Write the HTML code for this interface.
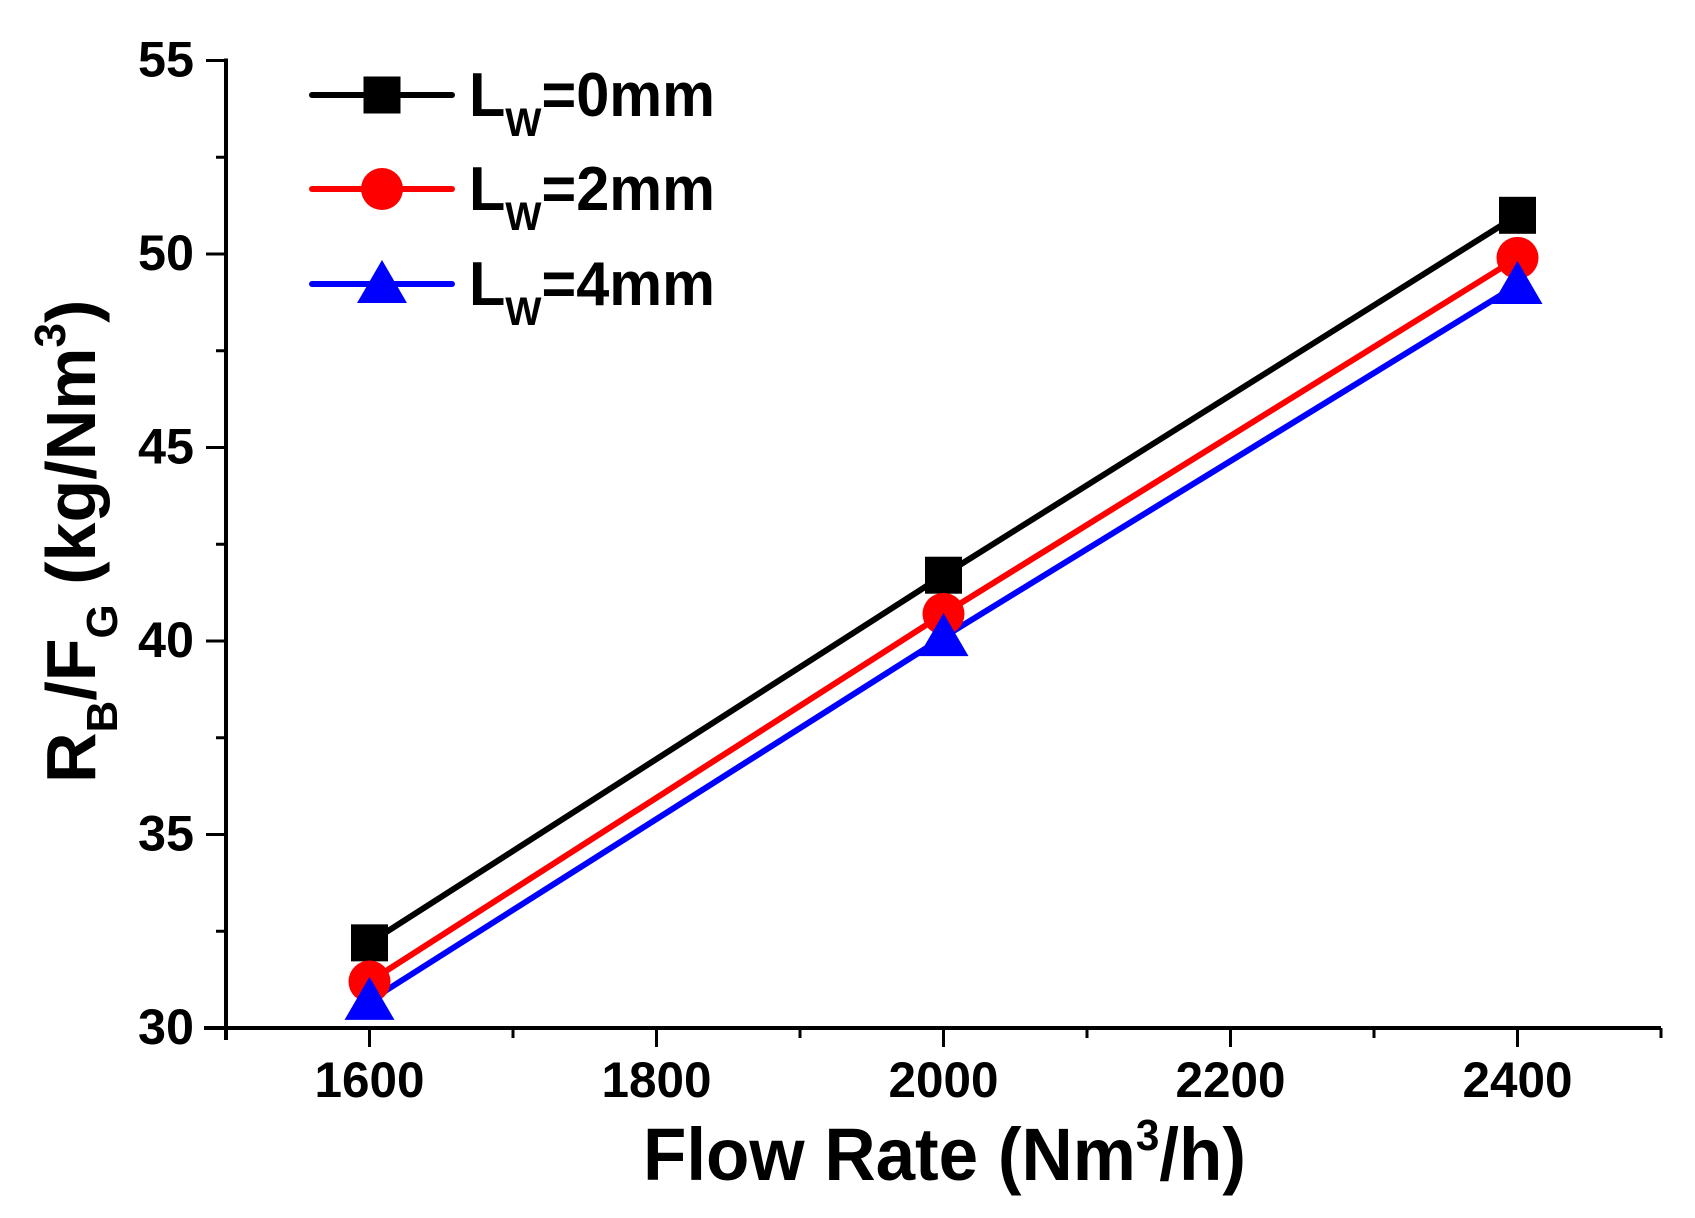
<!DOCTYPE html>
<html><head><meta charset="utf-8"><style>
html,body{margin:0;padding:0;background:#fff;}
svg{display:block;font-family:"Liberation Sans",Arial,sans-serif;font-weight:bold;}
</style></head><body>
<svg id="chart" width="1695" height="1218" viewBox="0 0 1695 1218"></svg>
<script>
const categories = [1600, 2000, 2400];
const seriesNames = ["0", "2", "4"];
const black0mm = [32.2, 41.7, 51.0];
const red2mm = [31.2, 40.7, 49.9];
const blue4mm = [30.7, 40.1, 49.2];
const xTicks = [1600, 1800, 2000, 2200, 2400];
const yTicks = [30, 35, 40, 45, 50, 55];

const NS = "http://www.w3.org/2000/svg";
const svg = document.getElementById("chart");
const X0 = 226, X1 = 1661, Y0 = 1028, Y1 = 60.5;
const xMin = 1500, xMax = 2500, yMin = 30, yMax = 55;
function xs(v){ return X0 + (v - xMin) / (xMax - xMin) * (X1 - X0); }
function ys(v){ return Y0 - (v - yMin) / (yMax - yMin) * (Y0 - Y1); }
function mk(tag, attrs, parent){
  const e = document.createElementNS(NS, tag);
  for (const k in attrs) e.setAttribute(k, attrs[k]);
  (parent || svg).appendChild(e);
  return e;
}

let e = mk("line", {x1: X0, y1: Y1 - 2, x2: X0, y2: Y0 + 12, stroke: "#000", "stroke-width": 4});


e = mk("line", {x1: X0 - 22, y1: Y0, x2: X1, y2: Y0, stroke: "#000", "stroke-width": 4});



for (let v = 1500; v <= 2500; v += 100) {
  const major = (v % 200 === 0);
  e = mk("line", {x1: xs(v), y1: Y0, x2: xs(v), y2: Y0 + (major ? 19 : 10), stroke: "#000", "stroke-width": 3});
  
  
}
xTicks.forEach(v => {
  e = mk("text", {x: xs(v), y: 1097, "text-anchor": "middle", "font-size": 50, textLength: 110, lengthAdjust: "spacingAndGlyphs"});
  e.textContent = v;
  
  
});
for (let v = 30; v <= 55; v += 2.5) {
  const major = (v % 5 === 0);
  e = mk("line", {x1: X0 - (major ? 20 : 10), y1: ys(v), x2: X0, y2: ys(v), stroke: "#000", "stroke-width": 3});
  
  
}
yTicks.forEach(v => {
  e = mk("text", {x: 194, y: ys(v) + 16, "text-anchor": "end", "font-size": 50, textLength: 56, lengthAdjust: "spacingAndGlyphs"});
  e.textContent = v;
  
  
});

e = mk("text", {x: 643, y: 1180, "font-size": 74, textLength: 603, lengthAdjust: "spacingAndGlyphs"});
e.innerHTML = 'Flow Rate (Nm<tspan dy="-30" font-size="44">3</tspan><tspan dy="30">/h)</tspan>';



e = mk("text", {x: 0, y: 0, "font-size": 70, transform: "translate(95,783) rotate(-90)"});
e.innerHTML = 'R<tspan dy="22" font-size="44">B</tspan><tspan dy="-22">/F</tspan><tspan dy="22" font-size="44">G</tspan><tspan dy="-22"> (kg/Nm</tspan><tspan dy="-30" font-size="44">3</tspan><tspan dy="30">)</tspan>';



function marker(type, cx, cy, color, name){
  let m;
  if (type === "square") m = mk("rect", {x: cx - 18.5, y: cy - 18.5, width: 37, height: 37, fill: color});
  else if (type === "circle") m = mk("circle", {cx: cx, cy: cy, r: 21, fill: color});
  else m = mk("polygon", {points: `${cx},${cy - 24} ${cx + 25},${cy + 19} ${cx - 25},${cy + 19}`, fill: color});
  
  
}

const series = [
  {vals: black0mm, color: "#000", type: "square"},
  {vals: red2mm, color: "#f00", type: "circle"},
  {vals: blue4mm, color: "#00f", type: "triangle"}
];
series.forEach((s, i) => {
  const pts = categories.map((c, j) => xs(c) + "," + ys(s.vals[j])).join(" ");
  e = mk("polyline", {points: pts, fill: "none", stroke: s.color, "stroke-width": 6});
  
  
});
series.forEach((s, i) => {
  categories.forEach((c, j) => marker(s.type, xs(c), ys(s.vals[j]), s.color, 'point-' + seriesNames[i] + 'mm-' + c));
});

const legY = [95, 189, 284];
series.forEach((s, i) => {
  const g = mk("g", {});
  
  
  mk("line", {x1: 312, y1: legY[i], x2: 452, y2: legY[i], stroke: s.color, "stroke-width": 6, "stroke-linecap": "round"}, g);
  marker(s.type, 382, legY[i], s.color, 'legend-marker');
  const t = mk("text", {x: 469, y: legY[i] + 21, "font-size": 62, textLength: 246, lengthAdjust: "spacingAndGlyphs"}, g);
  t.innerHTML = 'L<tspan dy="20" font-size="40">W</tspan><tspan dy="-20">=' + seriesNames[i] + 'mm</tspan>';
});
</script>
</body></html>
